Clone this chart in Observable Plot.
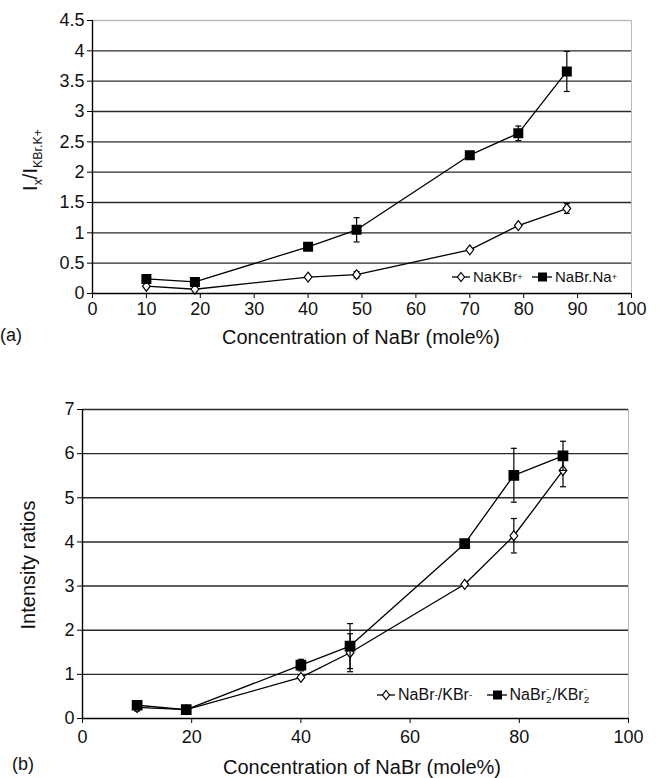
<!DOCTYPE html>
<html><head><meta charset="utf-8">
<script src="https://cdn.jsdelivr.net/npm/d3@7"></script>
<script src="https://cdn.jsdelivr.net/npm/@observablehq/plot@0.6"></script>
<style>
body{margin:0;background:#fff;font-family:"Liberation Sans",Arial,sans-serif;color:#111}
#wrap{position:relative;width:657px;height:778px;overflow:hidden}
.abs{position:absolute}
.c{transform:translate(-50%,-50%);white-space:nowrap}
.rot{transform:translate(-50%,-50%) rotate(-90deg);white-space:nowrap}
sub,sup{font-size:62%;line-height:0}
.leg{display:flex;align-items:center;white-space:nowrap}
.leg svg{margin-right:2px}
.ss{display:inline-flex;flex-direction:column;font-size:62%;line-height:1.1;vertical-align:0.8em;margin-right:1px}
</style></head>
<body><div id="wrap"></div>
<script>
// ---- data ----
const conc = [10, 19, 40, 49, 70, 79, 88];
// panel (a)
const aNaKBr      = [0.12, 0.07, 0.27, 0.31, 0.72, 1.12, 1.40];
const aNaKBrErr   = [0, 0, 0, 0.05, 0, 0, 0.08];
const aNaBrNa     = [0.24, 0.19, 0.77, 1.05, 2.28, 2.64, 3.66];
const aNaBrNaErr  = [0, 0, 0, 0.20, 0, 0.12, 0.33];
// panel (b)
const bNaBr       = [0.25, 0.20, 0.93, 1.49, 3.04, 4.14, 5.62];
const bNaBrErr    = [0.08, 0, 0, 0.43, 0, 0.39, 0.37];
const bNaBr2      = [0.30, 0.20, 1.21, 1.64, 3.96, 5.51, 5.95];
const bNaBr2Err   = [0.08, 0, 0.13, 0.51, 0, 0.61, 0.33];
// ticks
const xTicksA = [0, 10, 20, 30, 40, 50, 60, 70, 80, 90, 100];
const yTicksA = [0, 0.5, 1, 1.5, 2, 2.5, 3, 3.5, 4, 4.5];
const xTicksB = [0, 20, 40, 60, 80, 100];
const yTicksB = [0, 1, 2, 3, 4, 5, 6, 7];
const xLabel = "Concentration of NaBr (mole%)";

const diamond = {draw(ctx, size){const h=Math.sqrt(size)*0.62, w=h*0.78;
  ctx.moveTo(0,-h);ctx.lineTo(w,0);ctx.lineTo(0,h);ctx.lineTo(-w,0);ctx.closePath();}};

function rows(vals, errs){return conc.map((x,i)=>({x, y: vals[i], e: errs[i]}));}

function panel({width, height, mt, mb, ml, mr, yMax, xTicks, yTicks, topColor, series, sqR, tickPad}){
  const marks = [
    Plot.gridY(yTicks.filter(t => t > 0 && t < yMax), {stroke:"#2a2a2a", strokeOpacity:1, strokeWidth:1.4}),
    Plot.ruleY([yMax], {stroke: topColor, strokeWidth: 1.4}),
    Plot.ruleX([100], {stroke:"#bbb", strokeWidth:1}),
    Plot.axisY(yTicks, {tickSize:5, tickPadding:3, tickFormat: d => String(d), label:null, stroke:"#000"}),
    Plot.axisX(xTicks, {tickSize:5, tickPadding: tickPad, tickFormat: d => String(d), label:null, stroke:"#000"}),
    Plot.ruleX([0], {stroke:"#000", strokeWidth:1.4}),
    Plot.ruleY([0], {stroke:"#000", strokeWidth:1.4})
  ];
  for (const s of series) {
    const d = s.data;
    const ed = d.filter(r => r.e > 0);
    marks.push(
      Plot.line(d, {x:"x", y:"y", stroke:"#000", strokeWidth:1.3}),
      Plot.ruleX(ed, {x:"x", y1: r => r.y - r.e, y2: r => r.y + r.e, stroke:"#000", strokeWidth:1.2}),
      Plot.link(ed, {x1: r => r.x - 0.55, x2: r => r.x + 0.55, y1: r => r.y + r.e, y2: r => r.y + r.e, stroke:"#000", strokeWidth:1.2}),
      Plot.link(ed, {x1: r => r.x - 0.55, x2: r => r.x + 0.55, y1: r => r.y - r.e, y2: r => r.y - r.e, stroke:"#000", strokeWidth:1.2})
    );
    if (s.filled) marks.push(Plot.dot(d, {x:"x", y:"y", symbol:"square", r: sqR, fill:"#000", stroke:"#000"}));
    else marks.push(Plot.dot(d, {x:"x", y:"y", symbol: diamond, r: 4.5, fill:"#fff", stroke:"#000", strokeWidth:1.2}));
  }
  return Plot.plot({
    width, height, marginTop: mt, marginBottom: mb, marginLeft: ml, marginRight: mr,
    x: {domain:[0,100]}, y: {domain:[0,yMax]},
    style: {fontSize:"18px", fontFamily:'"Liberation Sans",Arial,sans-serif', color:"#111", background:"transparent", overflow:"visible"},
    marks
  });
}

const wrap = document.getElementById("wrap");
function place(el, left, top){el.style.position="absolute";el.style.left=left+"px";el.style.top=top+"px";wrap.appendChild(el);}

const pa = panel({width:657, height:335, mt:20, mb:42, ml:92, mr:26, yMax:4.5,
  xTicks:xTicksA, yTicks:yTicksA, topColor:"#bbb", sqR:4.8, tickPad:4,
  series:[{data: rows(aNaKBr, aNaKBrErr), filled:false}, {data: rows(aNaBrNa, aNaBrNaErr), filled:true}]});
place(pa, 0, 0);

const pb = panel({width:657, height:390, mt:39, mb:42, ml:82, mr:29, yMax:7,
  xTicks:xTicksB, yTicks:yTicksB, topColor:"#2a2a2a", sqR:5.2, tickPad:7,
  series:[{data: rows(bNaBr, bNaBrErr), filled:false}, {data: rows(bNaBr2, bNaBr2Err), filled:true}]});
place(pb, 0, 370);

function html(str, cls, left, top, size){
  const d = document.createElement("div"); d.className = "abs " + cls; d.innerHTML = str;
  d.style.left = left+"px"; d.style.top = top+"px"; d.style.fontSize = size+"px"; wrap.appendChild(d); return d;
}
const diaSvg = '<svg width="20" height="12"><line x1="1" x2="19" y1="6" y2="6" stroke="#000" stroke-width="1.3"/><path d="M10,1.5L13.5,6L10,10.5L6.5,6Z" fill="#fff" stroke="#000" stroke-width="1.2"/></svg>';
const sqSvg = '<svg width="22" height="12"><line x1="1" x2="21" y1="6" y2="6" stroke="#000" stroke-width="1.3"/><rect x="7" y="1.5" width="9" height="9" fill="#000"/></svg>';
const ss = '<span class="ss"><span>-</span><span>2</span></span>';

// axis titles
html(xLabel, "c", 361, 337, 20);
html(xLabel, "c", 362, 767, 20);
html("I<sub>x</sub>/I<sub>KBr.K+</sub>", "rot", 30, 160, 20);
html("Intensity ratios", "rot", 28, 565, 20);
html("(a)", "c", 11, 335, 18);
html("(b)", "c", 23, 764, 18);

// legends
html(diaSvg + 'NaKBr<sup>+</sup>&nbsp;&nbsp;' + sqSvg + 'NaBr.Na<sup>+</sup>', "leg", 451, 268, 15);
html(diaSvg + 'NaBr<sup>-</sup>/KBr<sup>-</sup>&nbsp;&nbsp;&nbsp;' + sqSvg + 'NaBr' + ss + '/KBr' + ss, "leg", 376, 684, 16);
</script>
</body></html>
